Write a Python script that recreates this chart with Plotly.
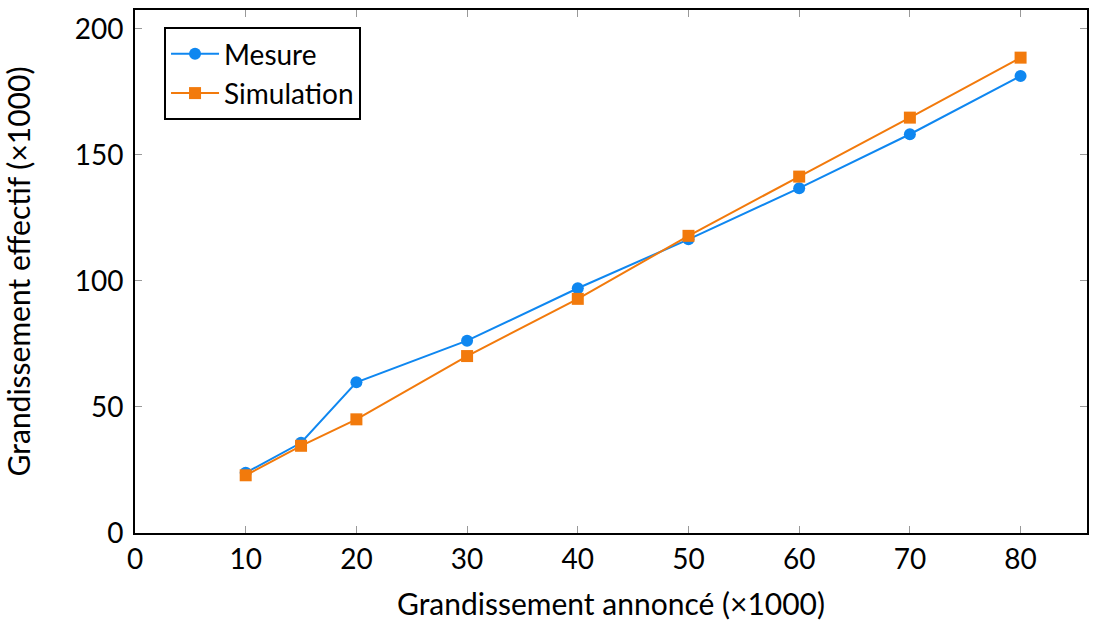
import plotly.graph_objects as go

grandissement_annonce = [10, 15, 20, 30, 40, 50, 60, 70, 80]
mesure = [23.9, 35.8, 59.8, 76.3, 97.1, 116.5, 136.8, 158.2, 181.3]
simulation = [22.9, 34.6, 45.1, 70.2, 92.9, 117.9, 141.4, 164.8, 188.6]
x_ticks = [0, 10, 20, 30, 40, 50, 60, 70, 80]
y_ticks = [0, 50, 100, 150, 200]

BLUE = "#0F87F0"
ORANGE = "#F27A0C"
FONT = "Lato"

fig = go.Figure()
fig.add_trace(go.Scatter(
    x=grandissement_annonce, y=mesure, name="Mesure", mode="lines+markers",
    line=dict(color=BLUE, width=2),
    marker=dict(symbol="circle", size=12, color=BLUE),
))
fig.add_trace(go.Scatter(
    x=grandissement_annonce, y=simulation, name="Simulation", mode="lines+markers",
    line=dict(color=ORANGE, width=2),
    marker=dict(symbol="square", size=12, color=ORANGE),
))

axis_common = dict(
    showgrid=False, zeroline=False,
    showline=True, linecolor="black", linewidth=2, mirror="ticks",
    ticks="inside", ticklen=7, tickcolor="#999999", tickwidth=1,
    tickfont=dict(family=FONT, size=28, color="black"),
)

fig.update_layout(
    width=1101, height=626,
    margin=dict(l=135, r=14, t=10, b=93, autoexpand=False),
    paper_bgcolor="white", plot_bgcolor="white",
    font=dict(family=FONT, color="black"),
    showlegend=True,
    legend=dict(
        x=0.0305, y=0.9675, xanchor="left", yanchor="top",
        bordercolor="black", borderwidth=2, bgcolor="white",
        font=dict(family=FONT, size=28, color="black"),
        itemwidth=48, tracegroupgap=0,
    ),
    xaxis=dict(
        range=[0, 86], tickvals=x_ticks,
        title=dict(text="Grandissement annoncé (×1000)", font=dict(family=FONT, size=30), standoff=20),
        **axis_common,
    ),
    yaxis=dict(
        range=[0, 207.5], tickvals=y_ticks, ticklabelstandoff=4,
        title=dict(text="Grandissement effectif (×1000)", font=dict(family=FONT, size=30), standoff=36),
        **axis_common,
    ),
)

fig.write_html(
    "out.html",
    config={"displayModeBar": False},
    post_script="document.body.style.margin='0';document.body.style.padding='0';",
)
